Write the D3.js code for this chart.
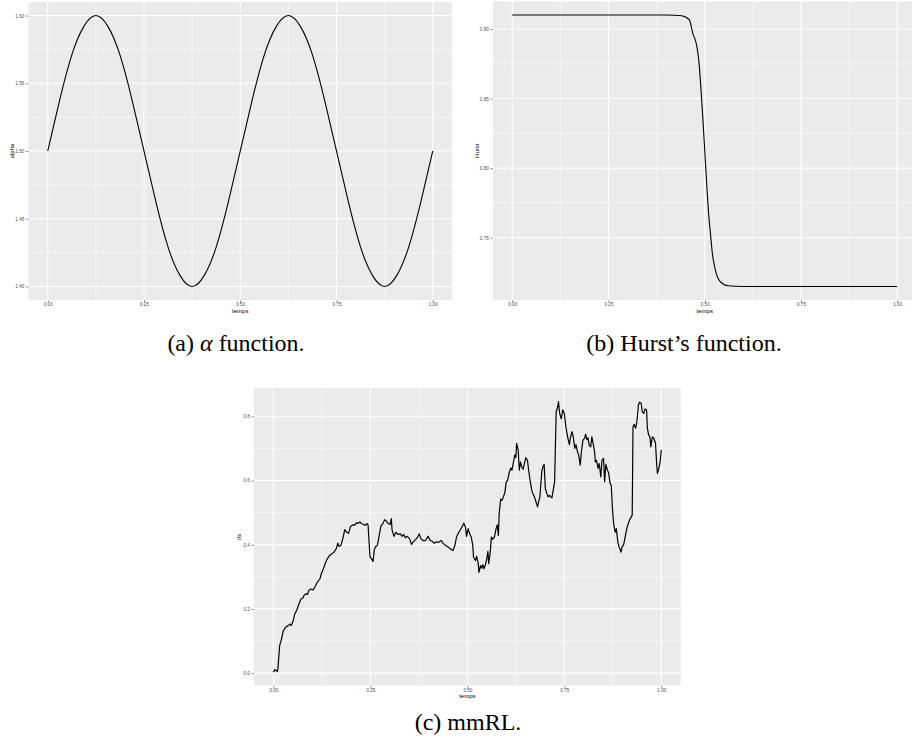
<!DOCTYPE html>
<html>
<head>
<meta charset="utf-8">
<script src="https://d3js.org/d3.v7.min.js"></script>
<style>
  body { margin: 0; background: #fff; }
  svg { display: block; }
</style>
</head>
<body>
<div id="my_dataviz"></div>
<script>
// alpha function (panel a)
var alphaTime = [0, 0.03125, 0.0625, 0.09375, 0.125, 0.15625, 0.1875, 0.21875, 0.25,
  0.28125, 0.3125, 0.34375, 0.375, 0.40625, 0.4375, 0.46875, 0.5,
  0.53125, 0.5625, 0.59375, 0.625, 0.65625, 0.6875, 0.71875, 0.75,
  0.78125, 0.8125, 0.84375, 0.875, 0.90625, 0.9375, 0.96875, 1];
var alphaValue = [1.500, 1.538, 1.571, 1.592, 1.600, 1.592, 1.571, 1.538, 1.500,
  1.462, 1.429, 1.408, 1.400, 1.408, 1.429, 1.462, 1.500,
  1.538, 1.571, 1.592, 1.600, 1.592, 1.571, 1.538, 1.500,
  1.462, 1.429, 1.408, 1.400, 1.408, 1.429, 1.462, 1.500];
var alphaTicks = [1.40, 1.45, 1.50, 1.55, 1.60];

// Hurst function (panel b)
var hurstTime = [0, 0.1, 0.2, 0.3, 0.4, 0.44, 0.46, 0.47, 0.475, 0.48, 0.485, 0.49, 0.495, 0.5,
  0.505, 0.51, 0.515, 0.52, 0.525, 0.53, 0.54, 0.56, 0.6, 0.7, 0.8, 0.9, 1];
var hurstValue = [0.910, 0.910, 0.910, 0.910, 0.910, 0.9095, 0.9065, 0.8958, 0.8925, 0.8868, 0.8760, 0.8576, 0.8360, 0.8125,
  0.7890, 0.7675, 0.7525, 0.7382, 0.7300, 0.7242, 0.7185, 0.7155, 0.715, 0.715, 0.715, 0.715, 0.715];
var hurstTicks = [0.75, 0.80, 0.85, 0.90];

// mmRL path (panel c)
var rlsTime = [0.000, 0.004, 0.010, 0.012, 0.016, 0.021, 0.025, 0.031, 0.038, 0.043, 0.046, 0.051, 0.055, 0.060,
  0.065, 0.071, 0.076, 0.079, 0.083, 0.088, 0.091, 0.096, 0.102, 0.107, 0.113, 0.120, 0.124, 0.129,
  0.134, 0.139, 0.145, 0.151, 0.156, 0.162, 0.166, 0.169, 0.174, 0.179, 0.184, 0.189, 0.194, 0.199,
  0.205, 0.210, 0.214, 0.218, 0.223, 0.227, 0.233, 0.237, 0.241, 0.244, 0.247, 0.249, 0.253, 0.257,
  0.260, 0.263, 0.268, 0.272, 0.277, 0.282, 0.287, 0.291, 0.296, 0.301, 0.304, 0.306, 0.311, 0.316,
  0.321, 0.327, 0.332, 0.336, 0.340, 0.345, 0.351, 0.356, 0.360, 0.364, 0.371, 0.376, 0.380, 0.386,
  0.392, 0.399, 0.404, 0.409, 0.414, 0.420, 0.426, 0.433, 0.437, 0.443, 0.450, 0.457, 0.463, 0.468,
  0.472, 0.478, 0.485, 0.491, 0.495, 0.498, 0.502, 0.506, 0.510, 0.514, 0.516, 0.521, 0.524, 0.528,
  0.530, 0.534, 0.537, 0.540, 0.543, 0.546, 0.550, 0.553, 0.555, 0.559, 0.562, 0.565, 0.570, 0.574,
  0.577, 0.580, 0.582, 0.586, 0.589, 0.593, 0.597, 0.600, 0.604, 0.608, 0.612, 0.615, 0.619, 0.622,
  0.625, 0.627, 0.631, 0.634, 0.637, 0.640, 0.644, 0.647, 0.651, 0.655, 0.658, 0.662, 0.666, 0.669,
  0.673, 0.677, 0.681, 0.684, 0.687, 0.692, 0.695, 0.698, 0.701, 0.705, 0.708, 0.711, 0.715, 0.718,
  0.722, 0.725, 0.729, 0.732, 0.735, 0.738, 0.742, 0.746, 0.750, 0.754, 0.759, 0.763, 0.766, 0.770,
  0.773, 0.777, 0.780, 0.784, 0.787, 0.791, 0.794, 0.798, 0.802, 0.805, 0.808, 0.811, 0.814, 0.818,
  0.821, 0.825, 0.828, 0.830, 0.833, 0.837, 0.840, 0.844, 0.847, 0.851, 0.854, 0.857, 0.861, 0.864,
  0.868, 0.871, 0.874, 0.877, 0.881, 0.884, 0.888, 0.891, 0.894, 0.896, 0.899, 0.903, 0.906, 0.911,
  0.915, 0.918, 0.922, 0.925, 0.927, 0.930, 0.934, 0.937, 0.941, 0.944, 0.948, 0.951, 0.955, 0.958,
  0.962, 0.964, 0.967, 0.971, 0.973, 0.977, 0.981, 0.985, 0.988, 0.990, 0.993, 0.997, 1.000];
var rlsValue = [0.003, 0.011, 0.005, 0.018, 0.085, 0.106, 0.130, 0.143, 0.148, 0.153, 0.148, 0.163, 0.184, 0.195,
  0.213, 0.231, 0.234, 0.242, 0.247, 0.245, 0.257, 0.262, 0.259, 0.268, 0.283, 0.294, 0.311, 0.325,
  0.343, 0.356, 0.367, 0.372, 0.377, 0.387, 0.405, 0.395, 0.398, 0.419, 0.447, 0.439, 0.436, 0.457,
  0.462, 0.461, 0.468, 0.466, 0.471, 0.466, 0.463, 0.460, 0.466, 0.462, 0.403, 0.363, 0.356, 0.348,
  0.384, 0.393, 0.398, 0.424, 0.458, 0.466, 0.478, 0.474, 0.466, 0.463, 0.481, 0.445, 0.426, 0.439,
  0.432, 0.434, 0.426, 0.432, 0.422, 0.426, 0.419, 0.401, 0.408, 0.413, 0.422, 0.434, 0.419, 0.413,
  0.413, 0.426, 0.413, 0.411, 0.405, 0.408, 0.408, 0.413, 0.405, 0.398, 0.393, 0.387, 0.382, 0.398,
  0.424, 0.439, 0.453, 0.467, 0.455, 0.426, 0.450, 0.434, 0.424, 0.398, 0.361, 0.351, 0.364, 0.341,
  0.314, 0.335, 0.327, 0.338, 0.325, 0.335, 0.356, 0.379, 0.341, 0.377, 0.424, 0.417, 0.424, 0.450,
  0.462, 0.429, 0.497, 0.542, 0.538, 0.549, 0.564, 0.594, 0.601, 0.625, 0.639, 0.632, 0.658, 0.679,
  0.671, 0.716, 0.695, 0.632, 0.658, 0.643, 0.635, 0.653, 0.671, 0.663, 0.632, 0.598, 0.570, 0.559,
  0.549, 0.533, 0.518, 0.535, 0.549, 0.629, 0.643, 0.650, 0.575, 0.559, 0.549, 0.554, 0.549, 0.546,
  0.575, 0.596, 0.814, 0.825, 0.846, 0.809, 0.792, 0.820, 0.809, 0.767, 0.733, 0.712, 0.736, 0.752,
  0.736, 0.700, 0.712, 0.689, 0.679, 0.648, 0.689, 0.726, 0.731, 0.744, 0.727, 0.733, 0.710, 0.705,
  0.736, 0.710, 0.689, 0.658, 0.663, 0.638, 0.653, 0.611, 0.663, 0.669, 0.596, 0.650, 0.632, 0.625,
  0.591, 0.585, 0.513, 0.466, 0.439, 0.450, 0.408, 0.393, 0.385, 0.377, 0.393, 0.400, 0.419, 0.450,
  0.466, 0.476, 0.486, 0.492, 0.767, 0.775, 0.763, 0.783, 0.835, 0.844, 0.841, 0.814, 0.809, 0.823,
  0.820, 0.763, 0.744, 0.733, 0.705, 0.736, 0.731, 0.716, 0.653, 0.622, 0.634, 0.658, 0.695];
var rlsTicks = [0.0, 0.2, 0.4, 0.6, 0.8];

var timeTicks = [0, 0.25, 0.5, 0.75, 1];

var width = 912, height = 745;

var svg = d3.select("#my_dataviz")
  .append("svg")
    .attr("width", width)
    .attr("height", height)
    .style("background", "#ffffff");

// ggplot style: extend the range 5% on each side
function expand(ext) {
  var pad = (ext[1] - ext[0]) * 0.05;
  return [ext[0] - pad, ext[1] + pad];
}

var sans = "'Liberation Sans', Arial, sans-serif";
var serif = "'Liberation Serif', 'Times New Roman', serif";

function drawPanel(p) {
  var x = d3.scaleLinear()
    .domain(expand(d3.extent(p.time)))
    .range([p.left, p.right]);
  var y = d3.scaleLinear()
    .domain(expand(d3.extent(p.value)))
    .range([p.bottom, p.top]);

  var g = svg.append("g");

  g.append("rect")
    .attr("x", p.left)
    .attr("y", p.top)
    .attr("width", p.right - p.left)
    .attr("height", p.bottom - p.top)
    .attr("fill", "#ebebeb");

  // minor grid: halfway between major breaks
  var xMinor = d3.pairs(timeTicks).map(function(d) { return (d[0] + d[1]) / 2; });
  var yMinor = d3.pairs(p.ticks).map(function(d) { return (d[0] + d[1]) / 2; });

  g.selectAll(".xminor").data(xMinor).enter().append("line")
    .attr("x1", function(d) { return x(d); })
    .attr("x2", function(d) { return x(d); })
    .attr("y1", p.top).attr("y2", p.bottom)
    .attr("stroke", "#ffffff").attr("stroke-width", 0.6);
  g.selectAll(".yminor").data(yMinor).enter().append("line")
    .attr("y1", function(d) { return y(d); })
    .attr("y2", function(d) { return y(d); })
    .attr("x1", p.left).attr("x2", p.right)
    .attr("stroke", "#ffffff").attr("stroke-width", 0.6);

  g.selectAll(".xmajor").data(timeTicks).enter().append("line")
    .attr("x1", function(d) { return x(d); })
    .attr("x2", function(d) { return x(d); })
    .attr("y1", p.top).attr("y2", p.bottom)
    .attr("stroke", "#ffffff").attr("stroke-width", 1.1);
  g.selectAll(".ymajor").data(p.ticks).enter().append("line")
    .attr("y1", function(d) { return y(d); })
    .attr("y2", function(d) { return y(d); })
    .attr("x1", p.left).attr("x2", p.right)
    .attr("stroke", "#ffffff").attr("stroke-width", 1.1);

  // the curve
  var pts = p.time.map(function(t, i) { return [t, p.value[i]]; });
  var line = d3.line()
    .x(function(d) { return x(d[0]); })
    .y(function(d) { return y(d[1]); })
    .curve(p.curve);
  g.append("path")
    .datum(pts)
    .attr("d", line)
    .attr("fill", "none")
    .attr("stroke", "#000000")
    .attr("stroke-width", p.lw)
    .attr("stroke-linejoin", "round");

  // axes
  var xAxis = d3.axisBottom(x).tickValues(timeTicks).tickSize(2.7).tickPadding(0.4)
    .tickFormat(d3.format(".2f"));
  var yAxis = d3.axisLeft(y).tickValues(p.ticks).tickSize(2.7).tickPadding(1.5)
    .tickFormat(d3.format(p.fmt));

  var ax = g.append("g")
    .attr("transform", "translate(0," + p.bottom + ")")
    .call(xAxis);
  var ay = g.append("g")
    .attr("transform", "translate(" + p.left + ",0)")
    .call(yAxis);
  [ax, ay].forEach(function(a) {
    a.select(".domain").remove();
    a.selectAll(".tick line").attr("stroke", "#333333").attr("stroke-width", 0.5);
    a.selectAll(".tick text")
      .attr("fill", "#4d4d4d")
      .style("font-family", sans)
      .style("font-size", "4.6px");
  });

  // axis titles
  g.append("text")
    .attr("x", (p.left + p.right) / 2)
    .attr("y", p.bottom + 12.5)
    .attr("text-anchor", "middle")
    .style("font-family", sans)
    .style("font-size", "6px")
    .text("temps");
  g.append("text")
    .attr("transform", "translate(" + (p.left - p.yTitleGap) + "," + ((p.top + p.bottom) / 2) + ") rotate(-90)")
    .attr("text-anchor", "middle")
    .style("font-family", sans)
    .style("font-size", "6px")
    .text(p.ylabel);

  // caption below the panel
  var cap = svg.append("text")
    .attr("x", p.capX)
    .attr("y", p.capY)
    .attr("text-anchor", "middle")
    .style("font-family", serif)
    .style("font-size", "24px")
    .attr("fill", "#000000");
  p.caption.forEach(function(c) {
    cap.append("tspan").style("font-style", c.italic ? "italic" : "normal").text(c.text);
  });
}

drawPanel({
  time: alphaTime, value: alphaValue, ticks: alphaTicks, fmt: ".2f", ylabel: "alpha", yTitleGap: 14.5,
  left: 28.5, right: 452, top: 2, bottom: 300, curve: d3.curveNatural, lw: 1.1,
  capX: 236, capY: 351,
  caption: [{text: "(a) "}, {text: "α", italic: true}, {text: " function."}]
});

drawPanel({
  time: hurstTime, value: hurstValue, ticks: hurstTicks, fmt: ".2f", ylabel: "Hurst", yTitleGap: 14,
  left: 493, right: 916.5, top: 1.5, bottom: 300, curve: d3.curveMonotoneX, lw: 1.1,
  capX: 684, capY: 351,
  caption: [{text: "(b) Hurst’s function."}]
});

drawPanel({
  time: rlsTime, value: rlsValue, ticks: rlsTicks, fmt: ".1f", ylabel: "rls", yTitleGap: 13,
  left: 254, right: 680.7, top: 388, bottom: 685.7, curve: d3.curveLinear, lw: 1.2,
  capX: 468, capY: 730,
  caption: [{text: "(c) mmRL."}]
});
</script>
</body>
</html>
